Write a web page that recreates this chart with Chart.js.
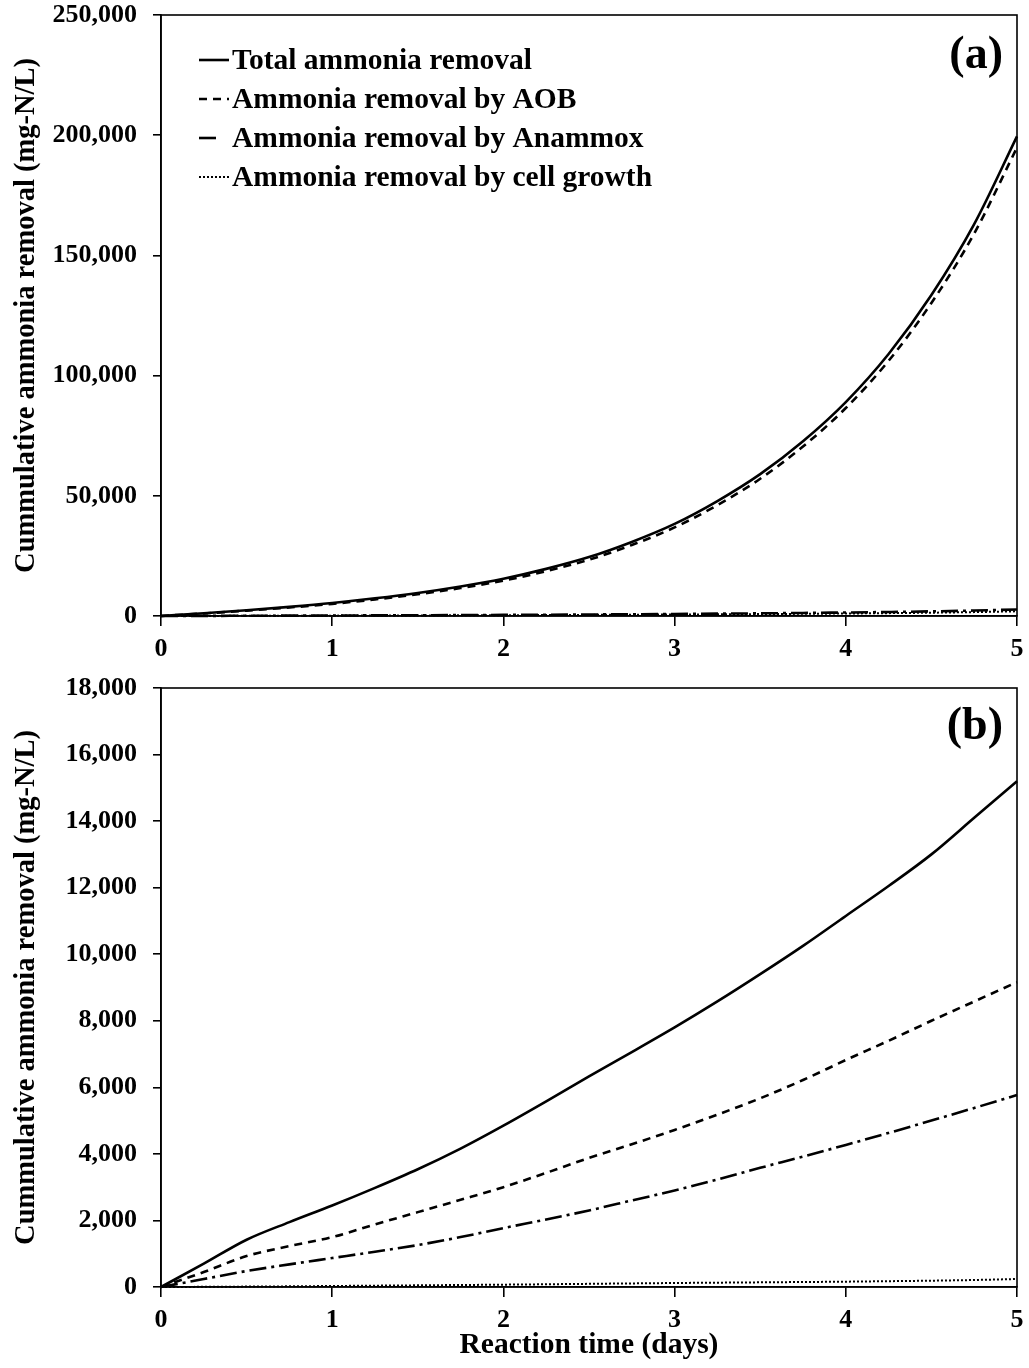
<!DOCTYPE html>
<html>
<head>
<meta charset="utf-8">
<script src="https://cdn.jsdelivr.net/npm/chart.js@4/dist/chart.umd.min.js"></script>
<style>
  html, body { margin: 0; padding: 0; background: #fff; }
  #wrap { position: relative; width: 1029px; height: 1368px; }
  .panel { position: absolute; left: 0; width: 1029px; }
  #panelA { top: 0; height: 668px; }
  #panelB { top: 668px; height: 700px; }
</style>
</head>
<body>
<div id="wrap">
  <div class="panel" id="panelA"><canvas id="chartA" width="1029" height="668"></canvas></div>
  <div class="panel" id="panelB"><canvas id="chartB" width="1029" height="700"></canvas></div>
</div>
<script>
// Reaction time (days) shared by both panels
const days = [0, 0.25, 0.5, 0.75, 1, 1.25, 1.5, 1.75, 2, 2.25, 2.5,
              2.75, 3, 3.25, 3.5, 3.75, 4, 4.25, 4.5, 4.75, 5];

// Panel (a): cumulative ammonia removal (mg-N/L)
const totalA   = [0, 1150, 2400, 3800, 5400, 7350, 9600, 12300, 15500, 19600, 24500,
                  30800, 38300, 47800, 59000, 72700, 89000, 109000, 133500, 163000, 199500];
const aobA     = [0, 1070, 2230, 3540, 5050, 6900, 9040, 11620, 14700, 18660, 23410,
                  29540, 36850, 46130, 57090, 70520, 86510, 106140, 130200, 159100, 194850];
const anammoxA = [0, 50, 100, 150, 200, 260, 320, 390, 460, 540, 630,
                  730, 840, 970, 1110, 1270, 1450, 1670, 1930, 2280, 2700];
const cellA    = [0, 30, 70, 110, 150, 190, 240, 290, 340, 400, 460,
                  530, 610, 700, 800, 910, 1040, 1190, 1370, 1620, 1950];

// Panel (b): cumulative ammonia removal (mg-N/L)
const totalB   = [0, 700, 1420, 1950, 2450, 2980, 3540, 4160, 4850, 5580, 6330,
                  7060, 7800, 8580, 9400, 10250, 11150, 12050, 13000, 14100, 15200];
const aobB     = [0, 450, 930, 1230, 1500, 1880, 2250, 2620, 3000, 3430, 3880,
                  4290, 4720, 5180, 5670, 6220, 6820, 7400, 8000, 8580, 9160];
const anammoxB = [0, 240, 480, 680, 870, 1060, 1260, 1500, 1770, 2030, 2300,
                  2600, 2900, 3230, 3580, 3920, 4270, 4630, 5000, 5380, 5770];
const cellB    = [0, 5, 12, 20, 30, 40, 50, 60, 70, 82, 95,
                  108, 120, 130, 140, 150, 160, 175, 190, 210, 240];

const seriesNames = [
  'Total ammonia removal',
  'Ammonia removal by AOB',
  'Ammonia removal by Anammox',
  'Ammonia removal by cell growth'
];
const xTicks = [0, 1, 2, 3, 4, 5];
const yTicksA = [0, 50000, 100000, 150000, 200000, 250000];
const yTicksB = [0, 2000, 4000, 6000, 8000, 10000, 12000, 14000, 16000, 18000];

const SERIF = '"Liberation Serif", "Times New Roman", serif';

const lineStyles = [
  { borderWidth: 2.6, borderDash: [] },
  { borderWidth: 2.6, borderDash: [8, 6] },
  { borderWidth: 2.6, borderDash: [17, 5, 3, 5] },
  { borderWidth: 2.0, borderDash: [2, 2] }
];

function makeDatasets(seriesList) {
  return seriesList.map((vals, i) => ({
    label: seriesNames[i],
    data: days.map((d, k) => ({ x: d, y: vals[k] })),
    borderColor: '#000',
    backgroundColor: '#000',
    borderWidth: lineStyles[i].borderWidth,
    borderDash: lineStyles[i].borderDash,
    pointRadius: 0,
    cubicInterpolationMode: 'monotone',
    fill: false,
    clip: false
  }));
}

// Draws the closed frame, the panel tag and (optionally) the legend
const framePlugin = {
  id: 'framePlugin',
  afterDatasetsDraw(chart, args, opts) {
    const { ctx, chartArea: a } = chart;
    ctx.save();
    ctx.strokeStyle = '#000';
    ctx.lineWidth = 1.6;
    ctx.strokeRect(a.left, a.top, a.right - a.left, a.bottom - a.top);

    ctx.fillStyle = '#000';
    ctx.font = 'bold 46px ' + SERIF;
    ctx.textAlign = 'right';
    ctx.textBaseline = 'middle';
    ctx.fillText(opts.tag, opts.tagX, opts.tagY);

    if (opts.legend) {
      const L = opts.legend;
      chart.data.datasets.forEach((ds, i) => {
        const y = L.y0 + i * L.dy;
        ctx.beginPath();
        ctx.lineWidth = ds.borderWidth;
        ctx.setLineDash(ds.borderDash || []);
        ctx.moveTo(L.x, y);
        ctx.lineTo(L.x + L.sample[i], y);
        ctx.stroke();
        ctx.setLineDash([]);
        ctx.font = 'bold 29.5px ' + SERIF;
        ctx.textAlign = 'left';
        ctx.textBaseline = 'middle';
        ctx.fillText(ds.label, L.textX, y + 1);
      });
    }
    ctx.restore();
  }
};

function makeOptions(cfg) {
  return {
    responsive: false,
    animation: false,
    layout: { padding: { top: cfg.padTop, right: 12, left: 0, bottom: 0 } },
    plugins: {
      legend: { display: false },
      tooltip: { enabled: false },
      framePlugin: { tag: cfg.tag, tagX: 1003, tagY: cfg.tagY, legend: cfg.legend }
    },
    scales: {
      x: {
        type: 'linear',
        min: 0, max: 5,
        afterBuildTicks: s => { s.ticks = xTicks.map(v => ({ value: v })); },
        afterFit: s => { s.height = cfg.xHeight; s.paddingLeft = 0; s.paddingRight = 0; },
        border: { display: true, color: '#000', width: 1.6 },
        grid: { drawOnChartArea: false, drawTicks: true, tickLength: 10, color: '#000', lineWidth: 1.6 },
        ticks: {
          color: '#000', padding: 8, maxRotation: 0,
          font: { family: SERIF, size: 26, weight: 'bold' },
          callback: v => String(v)
        },
        title: {
          display: cfg.xTitle,
          text: 'Reaction time (days)',
          color: '#000',
          font: { family: SERIF, size: 29.5, weight: 'bold' },
          padding: { top: 0, bottom: 5 }
        }
      },
      y: {
        type: 'linear',
        min: 0, max: cfg.yMax,
        afterBuildTicks: s => { s.ticks = cfg.yTicks.map(v => ({ value: v })); },
        afterFit: s => { s.width = 161; s.paddingTop = 0; s.paddingBottom = 0; },
        border: { display: true, color: '#000', width: 1.6 },
        grid: { drawOnChartArea: false, drawTicks: true, tickLength: 8, color: '#000', lineWidth: 1.6 },
        ticks: {
          color: '#000', padding: 16,
          font: { family: SERIF, size: 26, weight: 'bold' },
          callback: v => v.toLocaleString('en-US')
        },
        title: {
          display: true,
          text: 'Cummulative ammonia removal (mg-N/L)',
          color: '#000',
          font: { family: SERIF, size: 28.5, weight: 'bold' },
          padding: { top: 10, bottom: 0 }
        }
      }
    }
  };
}

new Chart(document.getElementById('chartA'), {
  type: 'line',
  data: { datasets: makeDatasets([totalA, aobA, anammoxA, cellA]) },
  options: makeOptions({
    padTop: 15, xHeight: 52, yMax: 250000, yTicks: yTicksA, xTitle: false,
    tag: '(a)', tagY: 56,
    legend: { x: 199, textX: 232, y0: 60, dy: 39, sample: [30, 30, 18, 30] }
  }),
  plugins: [framePlugin]
});

new Chart(document.getElementById('chartB'), {
  type: 'line',
  data: { datasets: makeDatasets([totalB, aobB, anammoxB, cellB]) },
  options: makeOptions({
    padTop: 20, xHeight: 81, yMax: 18000, yTicks: yTicksB, xTitle: true,
    tag: '(b)', tagY: 59, legend: null
  }),
  plugins: [framePlugin]
});
</script>
</body>
</html>
